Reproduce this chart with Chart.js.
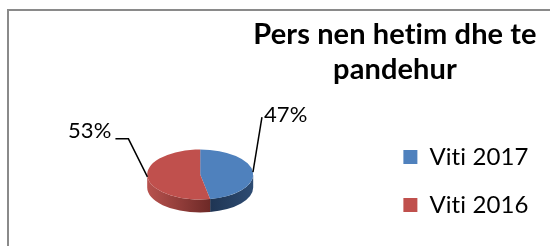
<!DOCTYPE html>
<html>
<head>
<meta charset="utf-8">
<script src="https://cdn.jsdelivr.net/npm/chart.js@4.4.1/dist/chart.umd.min.js"></script>
<style>
    html, body { margin: 0; padding: 0; background: #fff; }
    canvas { display: block; }
</style>
</head>
<body>
<canvas id="myChart" width="550" height="246"></canvas>
<script>
const categories = ['Viti 2017', 'Viti 2016'];
const shares = [47, 53];
const titleLines = ['Pers nen hetim dhe te', 'pandehur'];

const topColors = ['#4F81BD', '#C0504D'];
const sideColors = [['#091325', '#2e4c73'], ['#b8524e', '#3a0d0c']];

const tilt = 0.472;  // ry / rx of the flattened pie
const depth = 13;    // thickness of the pie edge

// squash the pie into an ellipse and draw the edge below it
const flatPie = {
    id: 'flatPie',
    beforeDatasetsDraw(chart) {
        const ctx = chart.ctx;
        const arcs = chart.getDatasetMeta(0).data;
        const cx = arcs[0].x, cy = arcs[0].y, rx = arcs[0].outerRadius;
        const ry = rx * tilt;
        const top = cy - depth / 2;
        arcs.forEach((arc, i) => {
            const a1 = Math.max(arc.startAngle, 0);
            const a2 = Math.min(arc.endAngle, Math.PI);
            if (a2 <= a1) return;
            const g = ctx.createLinearGradient(cx - rx, 0, cx + rx, 0);
            g.addColorStop(0, sideColors[i][0]);
            g.addColorStop(1, sideColors[i][1]);
            ctx.beginPath();
            ctx.ellipse(cx, top, rx, ry, 0, a1, a2);
            ctx.ellipse(cx, top + depth, rx, ry, 0, a2, a1, true);
            ctx.closePath();
            ctx.fillStyle = g;
            ctx.fill();
        });
        ctx.save();
        ctx.translate(cx, top);
        ctx.scale(1, tilt);
        ctx.translate(-cx, -cy);
    },
    afterDatasetsDraw(chart) {
        chart.ctx.restore();
    }
};

// percentage labels with leader lines, like the excel ones
const leaderLabels = {
    id: 'leaderLabels',
    afterDatasetsDraw(chart, args, opts) {
        const ctx = chart.ctx;
        const arcs = chart.getDatasetMeta(0).data;
        const total = shares.reduce((a, b) => a + b, 0);
        ctx.save();
        ctx.strokeStyle = '#000';
        ctx.fillStyle = '#000';
        ctx.lineWidth = 1.5;
        ctx.font = opts.font;
        ctx.textBaseline = 'middle';
        arcs.forEach((arc, i) => {
            const rx = arc.outerRadius, ry = rx * tilt;
            const mid = (arc.startAngle + arc.endAngle) / 2;
            let x = arc.x + rx * Math.cos(mid);
            let y = arc.y - depth / 2 + ry * Math.sin(mid);
            const l = opts.leaders[i];
            ctx.beginPath();
            ctx.moveTo(x, y);
            l.path.forEach(([dx, dy]) => {
                x += dx; y += dy;
                ctx.lineTo(x, y);
            });
            ctx.stroke();
            ctx.textAlign = l.align;
            ctx.fillText(Math.round(shares[i] / total * 100) + '%', x + l.text[0], y + l.text[1]);
        });
        ctx.restore();
    }
};

const frameTitle = {
    id: 'frameTitle',
    beforeDraw(chart) {
        const ctx = chart.ctx;
        ctx.letterSpacing = '0.1px'; // keeps Lato from joining "ti" into a ligature
        ctx.save();
        ctx.fillStyle = '#fff';
        ctx.fillRect(0, 0, chart.width, chart.height);
        ctx.strokeStyle = '#8a8a8a';
        ctx.lineWidth = 2;
        ctx.strokeRect(8, 10, 700, 400);
        ctx.restore();
    },
    afterDraw(chart, args, opts) {
        const ctx = chart.ctx;
        ctx.save();
        ctx.fillStyle = '#000';
        ctx.font = opts.font;
        ctx.textAlign = 'center';
        ctx.textBaseline = 'alphabetic';
        titleLines.forEach((line, i) => {
            ctx.fillText(line, opts.x, opts.y + i * opts.lineHeight);
        });
        ctx.restore();
    }
};

function createChart() {
    const ctx = document.getElementById('myChart').getContext('2d');
    const config = {
        type: 'pie',
        data: {
            labels: categories,
            datasets: [
                {
                    data: shares,
                    backgroundColor: topColors,
                    borderWidth: 0,
                    radius: 53
                }
            ]
        },
        options: {
            responsive: false,
            animation: false,
            devicePixelRatio: 1,
            layout: {
                padding: {left: 21, right: 12, top: 116, bottom: 0}
            },
            plugins: {
                legend: {
                    position: 'right',
                    align: 'center',
                    labels: {
                        boxWidth: 14,
                        boxHeight: 14,
                        padding: 24,
                        color: '#000',
                        font: {family: 'Lato', size: 24}
                    }
                },
                tooltip: {enabled: false},
                leaderLabels: {
                    font: '22px Lato',
                    leaders: [
                        {path: [[9, -55]], text: [2, -2], align: 'left'},
                        {path: [[-19, -38], [-13, 0]], text: [-4, -8], align: 'right'}
                    ]
                },
                frameTitle: {
                    font: 'bold 29px Lato',
                    x: 395,
                    y: 44,
                    lineHeight: 35
                }
            }
        },
        plugins: [flatPie, leaderLabels, frameTitle]
    };
    new Chart(ctx, config);
}

createChart();
</script>
</body>
</html>
